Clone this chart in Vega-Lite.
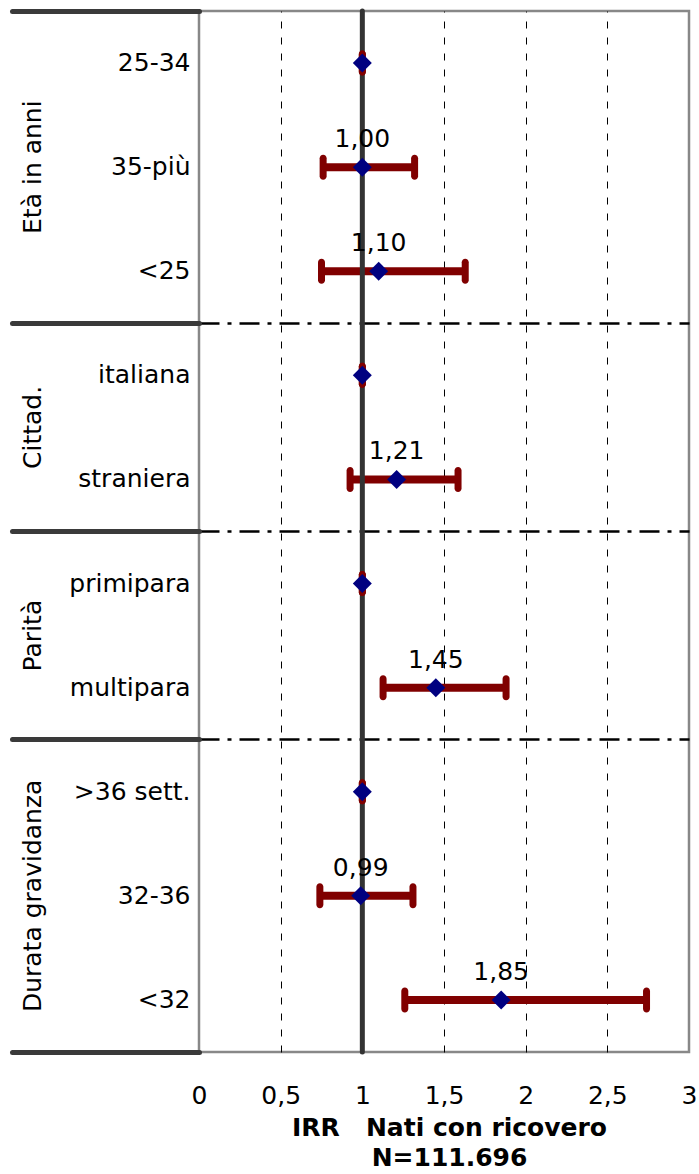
{
  "$schema": "https://vega.github.io/schema/vega-lite/v6.json",
  "autosize": {"type": "none"},
  "padding": {"left": 199, "top": 11, "right": 10, "bottom": 122},
  "width": 490,
  "height": 1041,
  "config": {
    "locale": {"number": {"decimal": ",", "thousands": ".", "grouping": [3], "currency": ["€", ""]}},
    "font": "DejaVu Sans",
    "view": {"stroke": "#888888", "strokeWidth": 2.5}
  },
  "datasets": {
    "rows": [
      {"group": "Età in anni", "cat": "25-34", "irr": 1.0, "lo": 1.0, "hi": 1.0, "ref": true},
      {"group": "Età in anni", "cat": "35-più", "irr": 1.0, "lo": 0.76, "hi": 1.32, "ref": false},
      {"group": "Età in anni", "cat": "<25", "irr": 1.1, "lo": 0.75, "hi": 1.63, "ref": false},
      {"group": "Cittad.", "cat": "italiana", "irr": 1.0, "lo": 1.0, "hi": 1.0, "ref": true},
      {"group": "Cittad.", "cat": "straniera", "irr": 1.21, "lo": 0.925, "hi": 1.586, "ref": false},
      {"group": "Parità", "cat": "primipara", "irr": 1.0, "lo": 1.0, "hi": 1.0, "ref": true},
      {"group": "Parità", "cat": "multipara", "irr": 1.45, "lo": 1.127, "hi": 1.88, "ref": false},
      {"group": "Durata gravidanza", "cat": ">36 sett.", "irr": 1.0, "lo": 1.0, "hi": 1.0, "ref": true},
      {"group": "Durata gravidanza", "cat": "32-36", "irr": 0.99, "lo": 0.74, "hi": 1.31, "ref": false},
      {"group": "Durata gravidanza", "cat": "<32", "irr": 1.85, "lo": 1.26, "hi": 2.74, "ref": false}
    ],
    "groupsMid": [
      {"group": "Età in anni", "cat": "35-più"},
      {"group": "Durata gravidanza", "cat": "32-36"}
    ],
    "groupsEdge": [
      {"group": "Cittad.", "cat": "italiana"},
      {"group": "Parità", "cat": "primipara"}
    ]
  },
  "layer": [
    {
      "data": {"name": "rows"},
      "mark": {"type": "rule", "color": "#800000", "strokeWidth": 8},
      "encoding": {
        "y": {
          "field": "cat", "type": "nominal", "sort": null,
          "scale": {"domain": ["25-34", "35-più", "<25", "italiana", "straniera", "primipara", "multipara", ">36 sett.", "32-36", "<32"], "paddingInner": 0, "paddingOuter": 0},
          "axis": {
            "title": null,
            "domain": false,
            "bandPosition": 1,
            "tickExtra": true,
            "tickSize": 187,
            "tickWidth": 5,
            "tickColor": "#3a3a3a",
            "tickCap": "round",
            "tickOpacity": {"condition": {"test": "datum.extra || indexof(['<25','straniera','multipara','<32'], datum.value) >= 0", "value": 1}, "value": 0},
            "labelPadding": -178,
            "labelFontSize": 25,
            "labelColor": "#000000",
            "labelFont": "DejaVu Sans",
            "grid": true,
            "gridColor": "#000000",
            "gridWidth": 2.5,
            "gridDash": [20, 8, 4, 8],
            "gridOpacity": {"condition": {"test": "indexof(['<25','straniera','multipara'], datum.value) >= 0", "value": 1}, "value": 0}
          }
        },
        "x": {
          "field": "lo", "type": "quantitative",
          "scale": {"domain": [0, 3], "nice": false, "zero": false},
          "axis": {
            "values": [0, 0.5, 1, 1.5, 2, 2.5, 3],
            "format": "~g",
            "ticks": false,
            "domain": false,
            "labelFontSize": 25,
            "labelColor": "#000000",
            "labelPadding": 31,
            "labelFlush": false,
            "grid": true,
            "gridColor": "#000000",
            "gridWidth": 1,
            "gridDash": [7, 9],
            "gridOpacity": {"condition": {"test": "datum.value === 0 || datum.value === 1 || datum.value === 3", "value": 0}, "value": 1},
            "title": ["IRR\u00a0\u00a0\u00a0Nati con ricovero", "N=111.696"],
            "titleFontSize": 25,
            "titleFontWeight": "bold",
            "titleColor": "#000000",
            "titlePadding": 7,
            "titleLineHeight": 30,
            "titleX": 250
          }
        },
        "x2": {"field": "hi"}
      }
    },
    {
      "data": {"values": [{"v": 1}]},
      "mark": {"type": "rule", "color": "#333333", "strokeWidth": 5, "strokeCap": "round"},
      "encoding": {"x": {"field": "v", "type": "quantitative"}}
    },
    {
      "data": {"name": "rows"},
      "mark": {"type": "tick", "color": "#800000", "orient": "vertical", "size": 25, "thickness": 7, "cornerRadius": 3.5, "opacity": 1},
      "encoding": {
        "y": {"field": "cat", "type": "nominal", "sort": null},
        "x": {"field": "lo", "type": "quantitative"}
      }
    },
    {
      "data": {"name": "rows"},
      "mark": {"type": "tick", "color": "#800000", "orient": "vertical", "size": 25, "thickness": 7, "cornerRadius": 3.5, "opacity": 1},
      "encoding": {
        "y": {"field": "cat", "type": "nominal", "sort": null},
        "x": {"field": "hi", "type": "quantitative"}
      }
    },
    {
      "data": {"name": "rows"},
      "mark": {"type": "point", "shape": "diamond", "filled": true, "color": "#000080", "size": 360, "opacity": 1},
      "encoding": {
        "y": {"field": "cat", "type": "nominal", "sort": null},
        "x": {"field": "irr", "type": "quantitative"}
      }
    },
    {
      "data": {"name": "rows"},
      "transform": [{"filter": "!datum.ref"}],
      "mark": {"type": "text", "fontSize": 25, "color": "#000000", "baseline": "middle", "align": "center", "dy": -28, "font": "DejaVu Sans"},
      "encoding": {
        "y": {"field": "cat", "type": "nominal", "sort": null},
        "x": {"field": "irr", "type": "quantitative"},
        "text": {"field": "irr", "type": "quantitative", "format": ".2f"}
      }
    },
    {
      "data": {"name": "groupsMid"},
      "mark": {"type": "text", "fontSize": 25, "color": "#000000", "angle": 270, "baseline": "middle", "align": "center", "dy": -166, "font": "DejaVu Sans"},
      "encoding": {
        "y": {"field": "cat", "type": "nominal", "sort": null},
        "x": {"datum": 0, "type": "quantitative"},
        "text": {"field": "group"}
      }
    },
    {
      "data": {"name": "groupsEdge"},
      "mark": {"type": "text", "fontSize": 25, "color": "#000000", "angle": 270, "baseline": "middle", "align": "center", "dy": -166, "font": "DejaVu Sans"},
      "encoding": {
        "y": {"field": "cat", "type": "nominal", "sort": null, "bandPosition": 1},
        "x": {"datum": 0, "type": "quantitative"},
        "text": {"field": "group"}
      }
    }
  ]
}
